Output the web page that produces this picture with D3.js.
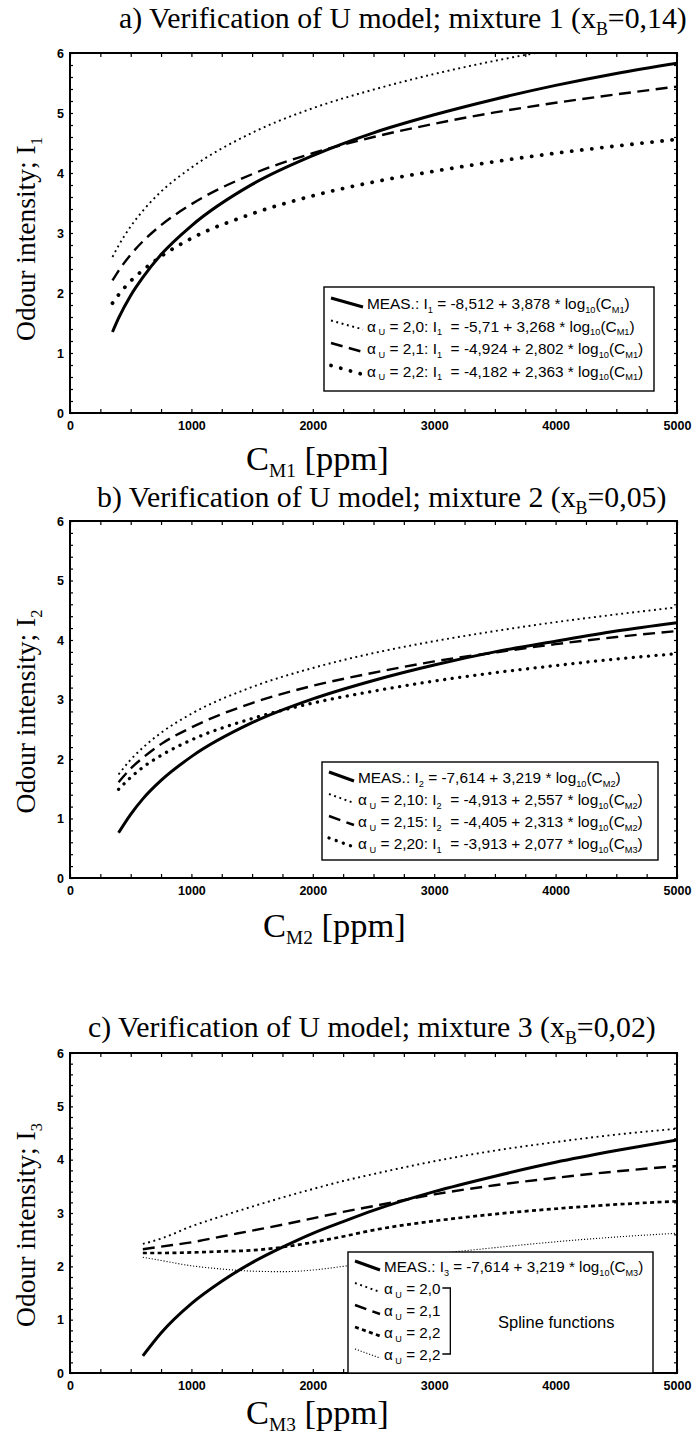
<!DOCTYPE html>
<html><head><meta charset="utf-8">
<script src="https://cdn.jsdelivr.net/npm/d3@7"></script>
<style>body{margin:0;background:#fff} svg{display:block} text{white-space:pre}</style>
</head><body><svg id="c" width="695" height="1444"></svg>
<script>
// ---------- DATA ----------
const xTickValues = [0,1000,2000,3000,4000,5000];
const yTickValues = [0,1,2,3,4,5,6];

// panel a (mixture 1)
const concA = [350,400,500,600,750,1000,1500,2000,2500,3000,3500,4000,4500,5000];
const measA = [1.35,1.58,1.96,2.26,2.64,3.12,3.81,4.29,4.67,4.97,5.23,5.46,5.66,5.83];
const u20A  = [2.60,2.79,3.11,3.37,3.69,4.09,4.67,5.08,5.39,5.65,5.87,6.06,null,null];
const u21A  = [2.21,2.37,2.64,2.86,3.13,3.48,3.98,4.33,4.60,4.82,5.01,5.17,5.31,5.44];
const u22A  = [1.83,1.97,2.20,2.38,2.61,2.91,3.32,3.62,3.85,4.03,4.19,4.33,4.45,4.56];

// panel b (mixture 2)
const concB = [400,500,600,750,1000,1500,2000,2500,3000,3500,4000,4500,5000];
const measB = [0.76,1.07,1.33,1.64,2.04,2.61,3.01,3.32,3.58,3.80,3.98,4.15,4.29];
const u210B = [1.74,1.99,2.19,2.44,2.76,3.21,3.53,3.78,3.98,4.15,4.30,4.43,4.55];
const u215B = [1.61,1.84,2.02,2.25,2.53,2.94,3.23,3.45,3.64,3.79,3.93,4.05,4.15];
const u220B = [1.49,1.69,1.86,2.06,2.32,2.68,2.94,3.14,3.31,3.45,3.57,3.68,3.77];

// panel c (mixture 3, spline functions)
const concC  = [600,750,1000,1250,1500,1750,2000,2250,2500,3000,3500,4000,4500,5000];
const measC  = [0.32,0.75,1.30,1.72,2.07,2.36,2.62,2.84,3.05,3.40,3.69,3.95,4.17,4.37];
const sp20C  = [2.42,2.52,2.75,2.94,3.12,3.29,3.45,3.60,3.73,3.97,4.17,4.33,4.47,4.58];
const sp21C  = [2.32,2.37,2.45,2.56,2.67,2.78,2.90,3.02,3.13,3.35,3.52,3.66,3.78,3.88];
const sp22C  = [2.25,2.25,2.26,2.28,2.30,2.36,2.45,2.56,2.68,2.85,2.98,3.08,3.16,3.22];
const sp22bC = [2.17,2.11,2.01,1.95,1.91,1.90,1.93,2.00,2.08,2.23,2.35,2.46,2.55,2.62];

const legendA = [
  "MEAS.: I_{1} = -8,512 + 3,878 * log_{10}(C_{M1})",
  "α_{ U} = 2,0: I_{1}  = -5,71 + 3,268 * log_{10}(C_{M1})",
  "α_{ U} = 2,1: I_{1}  = -4,924 + 2,802 * log_{10}(C_{M1})",
  "α_{ U} = 2,2: I_{1}  = -4,182 + 2,363 * log_{10}(C_{M1})"
];
const legendB = [
  "MEAS.: I_{2} = -7,614 + 3,219 * log_{10}(C_{M2})",
  "α_{ U} = 2,10: I_{2}  = -4,913 + 2,557 * log_{10}(C_{M2})",
  "α_{ U} = 2,15: I_{2}  = -4,405 + 2,313 * log_{10}(C_{M2})",
  "α_{ U} = 2,20: I_{1}  = -3,913 + 2,077 * log_{10}(C_{M3})"
];
const legendC = [
  "MEAS.: I_{3} = -7,614 + 3,219 * log_{10}(C_{M3})",
  "α_{ U} = 2,0",
  "α_{ U} = 2,1",
  "α_{ U} = 2,2",
  "α_{ U} = 2,2"
];
const splineNote = "Spline functions";

// ---------- STYLES ----------
const ST = {
  meas:   {w:3,   dash:null,        cap:"butt"},
  fine:   {w:1.9, dash:"1.9,3.6",   cap:"butt"},
  dash:   {w:2.4, dash:"12,6.5",    cap:"butt"},
  bigdot: {w:3.8, dash:"0.1,10",    cap:"round"},
  meddot: {w:3.3, dash:"0.1,7.5",   cap:"round"},
  sdash:  {w:2.7, dash:"4,3.4",     cap:"butt"},
  thin:   {w:1.1, dash:"1.1,1.9",   cap:"butt"}
};
const SERIF = "'Liberation Serif','Times New Roman',serif";
const SANS  = "'Liberation Sans',Arial,Helvetica,sans-serif";
const X0 = 70, X1 = 677;
const svg = d3.select('#c');

function rich(sel, str, fs, subScale, subDy) {
  subScale = subScale || 0.62; subDy = subDy || 0.28;
  const parts = []; const re = /_\{([^}]*)\}/g; let last = 0, m;
  while ((m = re.exec(str))) {
    if (m.index > last) parts.push({t: str.slice(last, m.index)});
    parts.push({t: m[1], sub: true}); last = re.lastIndex;
  }
  if (last < str.length) parts.push({t: str.slice(last)});
  let pending = 0;
  parts.forEach(p => {
    const t = sel.append('tspan').text(p.t);
    if (p.sub) { const d = fs*subDy; t.attr('font-size', fs*subScale).attr('dy', d + pending); pending = -d; }
    else if (pending) { t.attr('dy', pending); pending = 0; }
  });
  return sel;
}

function styleLine(sel, s) {
  sel.attr('fill','none').attr('stroke','#000').attr('stroke-width', s.w)
     .attr('stroke-linecap', s.cap).attr('stroke-dasharray', s.dash);
}

const panels = [
  {id:'a', top:53, bottom:413, title:"a) Verification of U model; mixture 1 (x_{B}=0,14)", titleX:119, titleY:28,
   yLabel:"Odour intensity; I_{1}", yOff:6, xLabel:"C_{M1} [ppm]", xLabelX:246, xLabelY:470,
   conc:concA, series:[[measA,'meas'],[u20A,'fine'],[u21A,'dash'],[u22A,'bigdot']],
   leg:{x:324, y:287, w:330, h:104, rows:legendA, styles:['meas','fine','dash','bigdot'], textX:367, row0:17, step:22.5, fs:15.4}},
  {id:'b', top:521, bottom:878, title:"b) Verification of U model; mixture 2 (x_{B}=0,05)", titleX:97, titleY:507,
   yLabel:"Odour intensity; I_{2}", yOff:12, xLabel:"C_{M2} [ppm]", xLabelX:263, xLabelY:937,
   conc:concB, series:[[measB,'meas'],[u210B,'fine'],[u215B,'dash'],[u220B,'meddot']],
   leg:{x:322, y:762, w:336, h:98, rows:legendB, styles:['meas','fine','dash','meddot'], textX:358, row0:16, step:22, fs:15.4}},
  {id:'c', top:1053, bottom:1373, title:"c) Verification of U model; mixture 3 (x_{B}=0,02)", titleX:88, titleY:1037,
   yLabel:"Odour intensity; I_{3}", yOff:12, xLabel:"C_{M3} [ppm]", xLabelX:246, xLabelY:1424,
   conc:concC, series:[[measC,'meas'],[sp20C,'fine'],[sp21C,'dash'],[sp22C,'sdash'],[sp22bC,'thin']],
   leg:{x:348, y:1252, w:305, h:121, rows:legendC, styles:['meas','fine','dash','sdash','thin'], textX:384, row0:15, step:22, fs:15.2, spline:true}}
];

panels.forEach(p => {
  const x = d3.scaleLinear().domain([0,5000]).range([X0,X1]);
  const y = d3.scaleLinear().domain([0,6]).range([p.bottom,p.top]);
  const g = svg.append('g');
  const cid = 'clip'+p.id;
  svg.append('clipPath').attr('id',cid).append('rect')
     .attr('x',X0).attr('y',p.top).attr('width',X1-X0).attr('height',p.bottom-p.top);

  // title
  rich(g.append('text').attr('x',p.titleX).attr('y',p.titleY).attr('font-family',SERIF).attr('font-size',29.8), p.title, 29.8, 0.6, 0.25);

  // minor ticks on all four edges (inward)
  const minorX = d3.range(0,5001,250), minorY = d3.range(0,6.001,0.2);
  const ax = [
    g.append('g').attr('transform',`translate(0,${p.bottom})`).call(d3.axisTop(x).tickValues(minorX).tickSize(4).tickFormat('')),
    g.append('g').attr('transform',`translate(0,${p.top})`).call(d3.axisBottom(x).tickValues(minorX).tickSize(4).tickFormat('')),
    g.append('g').attr('transform',`translate(${X0},0)`).call(d3.axisRight(y).tickValues(minorY).tickSize(3).tickFormat('')),
    g.append('g').attr('transform',`translate(${X1},0)`).call(d3.axisLeft(y).tickValues(minorY).tickSize(3).tickFormat(''))
  ];
  ax.forEach(a => { a.select('.domain').remove(); a.selectAll('line').attr('stroke-width',1.2); });

  // major labels
  const xl = g.append('g').attr('transform',`translate(0,${p.bottom})`)
     .call(d3.axisBottom(x).tickValues(xTickValues).tickSize(0).tickPadding(8).tickFormat(d3.format('d')));
  const yl = g.append('g').attr('transform',`translate(${X0},0)`)
     .call(d3.axisLeft(y).tickValues(yTickValues).tickSize(0).tickPadding(6).tickFormat(d3.format('d')));
  [xl,yl].forEach(a => { a.select('.domain').remove();
    a.selectAll('text').attr('font-family',SANS).attr('font-weight','bold').attr('font-size',12.5).attr('fill','#000'); });

  // frame
  g.append('rect').attr('x',X0).attr('y',p.top).attr('width',X1-X0).attr('height',p.bottom-p.top)
   .attr('fill','none').attr('stroke','#000').attr('stroke-width',2);

  // curves
  const line = d3.line().defined(d => d[1] != null).x(d => x(d[0])).y(d => y(d[1])).curve(d3.curveMonotoneX);
  const cg = g.append('g').attr('clip-path',`url(#${cid})`);
  p.series.slice().reverse().forEach(([vals, st]) => {
    const pts = p.conc.map((c,i) => [c, vals[i]]);
    cg.append('path').attr('d', line(pts)).call(styleLine, ST[st]);
  });

  // legend
  const L = p.leg;
  const lg = g.append('g');
  lg.append('rect').attr('x',L.x).attr('y',L.y).attr('width',L.w).attr('height',L.h)
    .attr('fill','#fff').attr('stroke','#000').attr('stroke-width',1.4);
  const texts = [];
  L.rows.forEach((r,i) => {
    const cy = L.y + L.row0 + i*L.step;
    const s = ST[L.styles[i]];
    lg.append('line').attr('x1',L.x+7).attr('y1',cy-6).attr('x2',L.textX-4).attr('y2',cy+3).call(styleLine, s);
    texts.push(rich(lg.append('text').attr('x', L.textX).attr('y', cy+5).attr('font-family',SANS).attr('font-size',L.fs), r, L.fs, 0.6, 0.25));
  });
  if (L.spline) {
    const bb = texts[1].node().getBBox();
    const x1 = bb.x + bb.width + 2, bx = x1 + 8;
    const ya = L.y + L.row0 + 1*L.step - 1, yb = L.y + L.row0 + 4*L.step - 1;
    lg.append('path').attr('d',`M${x1},${ya}H${bx}V${yb}H${x1}`).attr('fill','none').attr('stroke','#000').attr('stroke-width',1.3);
    lg.append('text').attr('x', L.x+150).attr('y', L.y+L.row0+2.5*L.step+6).attr('font-family',SANS).attr('font-size',16.5).text(splineNote);
  }

  // axis titles
  rich(g.append('text').attr('x',p.xLabelX).attr('y',p.xLabelY).attr('font-family',SERIF).attr('font-size',34.5), p.xLabel, 34.5, 0.56, 0.2);
  const mid = (p.top + p.bottom)/2 + p.yOff;
  rich(g.append('text').attr('transform',`translate(35,${mid}) rotate(-90)`).attr('text-anchor','middle')
       .attr('font-family',SERIF).attr('font-size',27.5), p.yLabel, 27.5, 0.6, 0.25);
});
</script></body></html>
